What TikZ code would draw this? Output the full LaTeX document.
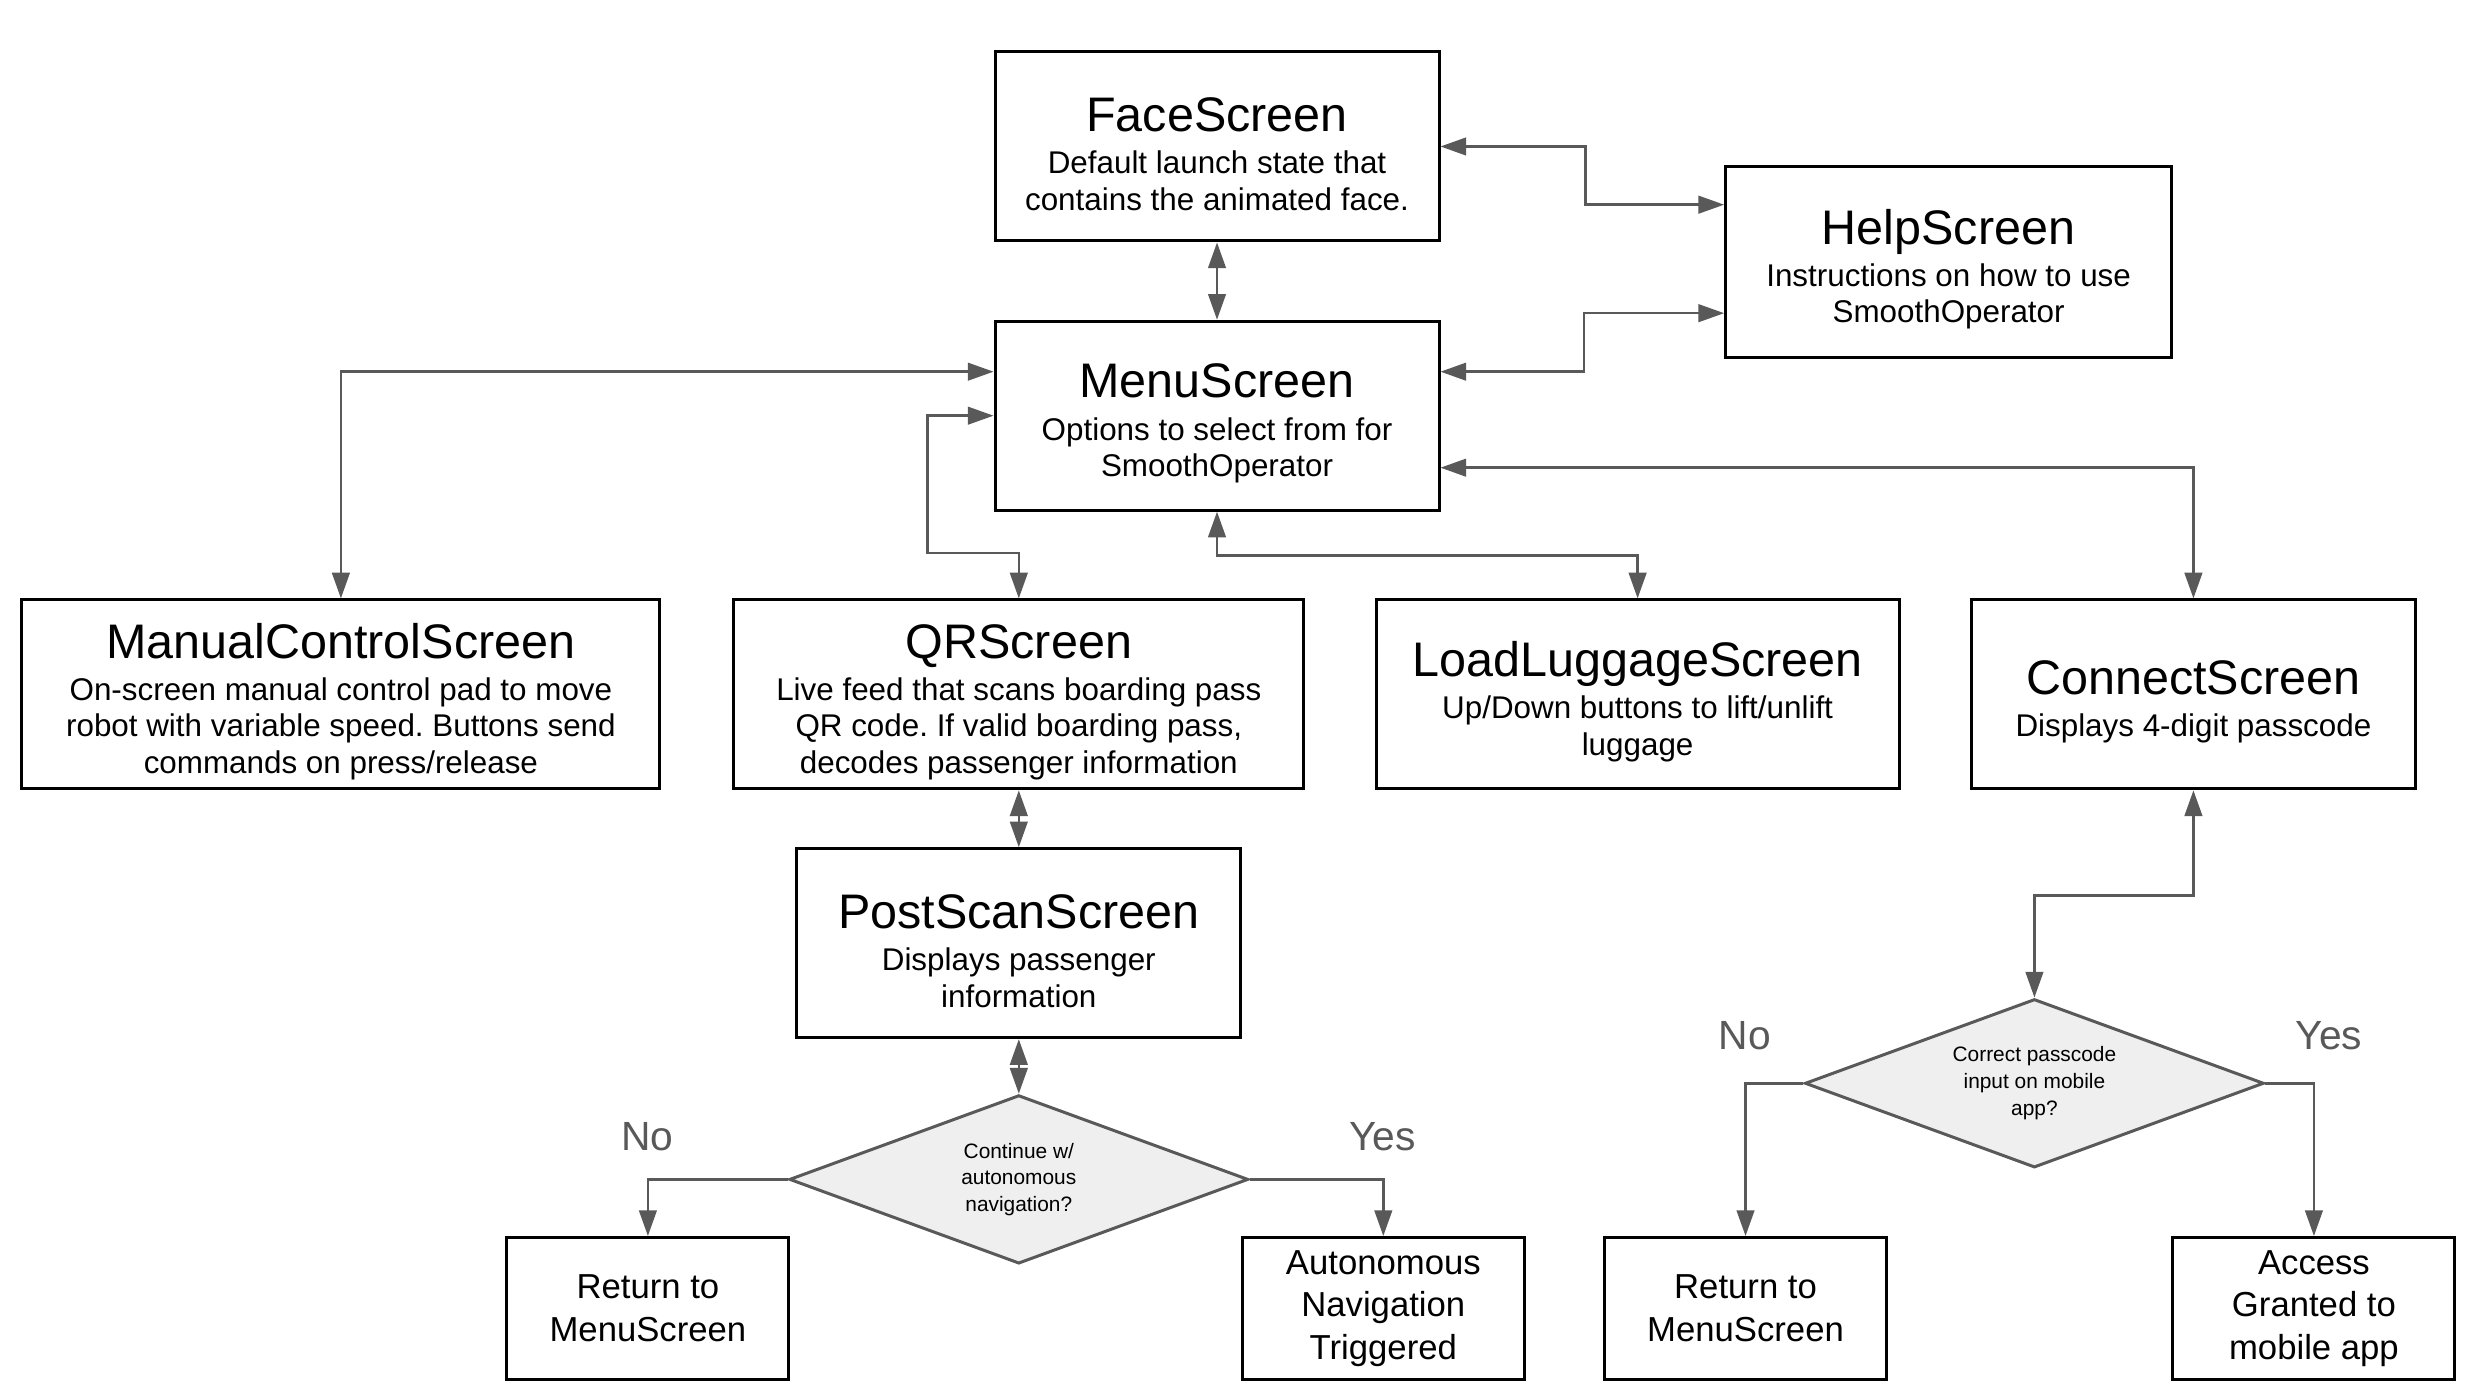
\documentclass[tikz,border=0pt]{standalone}
\usepackage{fontspec}
\setmainfont{Liberation Sans}
\usetikzlibrary{arrows.meta,shapes.geometric,calc}
\definecolor{linegray}{HTML}{595959}
\definecolor{choicefill}{HTML}{EFEFEF}
\newcommand{\heading}{\fontsize{13.8pt}{16pt}\selectfont\rule{0pt}{14pt}}
\frenchspacing

\begin{document}
\begin{tikzpicture}
            \tikzstyle{screen}=[rectangle, draw=black, line width=0.85pt, fill=white, inner sep=0pt, minimum width=4.44cm, minimum height=1.89cm, align=center, font=\fontsize{8.93pt}{10.35pt}\selectfont]
            \tikzstyle{outcome}=[screen, minimum width=2.82cm, minimum height=1.42cm, font=\fontsize{9.87pt}{12.1pt}\selectfont]
            \tikzstyle{choice}=[diamond, aspect=2.72, draw=linegray, line width=0.85pt, fill=choicefill, inner sep=0pt, minimum width=4.59cm, minimum height=1.685cm, align=center, font=\fontsize{5.94pt}{7.6pt}\selectfont]
            \tikzstyle{answer}=[text=linegray, inner sep=0pt, font=\fontsize{11.6pt}{13pt}\selectfont]
            \tikzstyle{edge}=[draw=linegray, line width=0.7pt, >={Triangle[length=7.3pt,width=5pt]}]

            \useasboundingbox[fill=white] (0,0) rectangle (24.69,13.89);

            \node[screen] (face) at (12.17,12.425) {{\heading FaceScreen}\\[1.7pt]Default launch state that\\contains the animated face.};
            \node[screen, minimum width=4.46cm, minimum height=1.905cm] (help) at (19.486,11.268) {{\heading HelpScreen}\\[1.7pt]Instructions on how to use\\SmoothOperator};
            \node[screen] (menu) at (12.17,9.733) {{\heading MenuScreen}\\[1.7pt]Options to select from for\\SmoothOperator};
            \node[screen, minimum width=6.38cm] (manual) at (3.409,6.946) {{\heading ManualControlScreen}\\[1.7pt]On-screen manual control pad to move\\robot with variable speed. Buttons send\\commands on press/release};
            \node[screen, minimum width=5.70cm] (qr) at (10.188,6.946) {{\heading QRScreen}\\[1.7pt]Live feed that scans boarding pass\\QR code. If valid boarding pass,\\decodes passenger information};
            \node[screen, minimum width=5.23cm] (luggage) at (16.376,6.946) {{\heading LoadLuggageScreen}\\[1.7pt]Up/Down buttons to lift/unlift\\luggage};
            \node[screen] (connect) at (21.934,6.946) {{\heading ConnectScreen}\\[1.7pt]Displays 4-digit passcode};
            \node[screen] (postscan) at (10.188,4.458) {{\heading PostScanScreen}\\[1.7pt]Displays passenger\\information};

            \node[choice] (ask) at (10.188,2.096) {Continue w/\\autonomous\\navigation?};
            \node[outcome] (back) at (6.479,0.805) {Return to\\MenuScreen};
            \node[outcome] (auto) at (13.833,0.805) {Autonomous\\Navigation\\Triggered};
            \node[answer] (no) at (6.472,2.52) {No};
            \node[answer] (yes) at (13.825,2.52) {Yes};

            \node[choice] (check) at (20.344,3.057) {Correct passcode\\input on mobile\\app?};
            \node[outcome] (backtwo) at (17.455,0.805) {Return to\\MenuScreen};
            \node[outcome] (access) at (23.139,0.805) {Access\\Granted to\\mobile app};
            \node[answer] (notwo) at (17.447,3.53) {No};
            \node[answer] (yestwo) at (23.29,3.53) {Yes};

            \draw[edge, <->] (face.south) -- (menu.north);
            \draw[edge, <->] (face.east) -- ++(1.45,0) |- ($(help.west)+(0,0.575)$);
            \draw[edge, <->] ($(menu.east)+(0,0.44)$) -- ++(1.435,0) |- ($(help.west)+(0,-0.51)$);
            \draw[edge, <->] ($(menu.east)+(0,-0.52)$) -| (connect.north);
            \draw[edge, <->] ($(menu.west)+(0,0.44)$) -| (manual.north);
            \draw[edge, <->] (menu.west) -- ++(-0.66,0) |- ($(qr.north)+(0,0.456)$) -- (qr.north);
            \draw[edge, <->] (menu.south) -- ++(0,-0.44) -| (luggage.north);
            \draw[edge, <->] (qr.south) -- (postscan.north);
            \draw[edge, <->] (postscan.south) -- (ask.north);
            \draw[edge, <->] (connect.south) -- ++(0,-1.05) -| (check.north);

            \draw[edge, ->] (ask.west) -| (back.north);
            \draw[edge, ->] (ask.east) -| (auto.north);
            \draw[edge, ->] (check.west) -| (backtwo.north);
            \draw[edge, ->] (check.east) -| (access.north);
\end{tikzpicture}
\end{document}
